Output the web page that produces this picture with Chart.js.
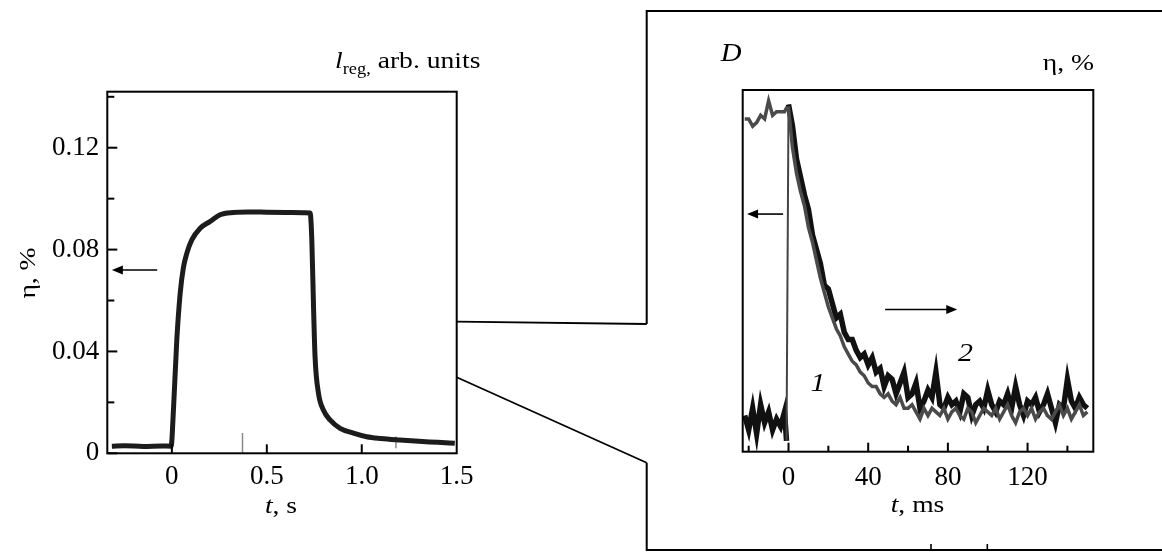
<!DOCTYPE html>
<html>
<head>
<meta charset="utf-8">
<script src="https://cdn.jsdelivr.net/npm/chart.js@4.4.1/dist/chart.umd.min.js"></script>
<style>
    html, body { margin: 0; padding: 0; background: #fff; }
    #wrap { position: relative; width: 1162px; height: 552px; overflow: hidden; }
    #slowChart { position: absolute; left: 0; top: 0; }
    #fastChart { position: absolute; left: 640px; top: 0; }
</style>
</head>
<body>
<div id="wrap">
    <canvas id="slowChart" width="650" height="552"></canvas>
    <canvas id="fastChart" width="522" height="552"></canvas>
</div>
<script>
// left panel: eta (%) vs t (s)
const slowT = [-0.316, -0.25, -0.15, -0.05, -0.004, 0.009, 0.026, 0.044, 0.061, 0.079, 0.105, 0.149, 0.2, 0.254, 0.325,
    0.4, 0.5, 0.6, 0.7, 0.728, 0.737, 0.746, 0.754, 0.772, 0.798, 0.833, 0.886, 0.956, 1.026, 1.1, 1.2, 1.3, 1.4, 1.49];
const slowEta = [0.0028, 0.0030, 0.0027, 0.0029, 0.0028, 0.018, 0.0445, 0.063, 0.073, 0.0786, 0.0838, 0.0884, 0.091, 0.0937, 0.0946,
    0.0948, 0.0947, 0.0946, 0.0945, 0.0944, 0.0838, 0.0576, 0.038, 0.0236, 0.017, 0.0131, 0.0098, 0.0079, 0.0065, 0.0058, 0.0052, 0.0047, 0.0043, 0.0039];
const spikeT = [0.372, 1.18];
const spikeLow = [0, 0.002];
const spikeTop = [0.008, 0.0066];
const slowXTicks = [0, 0.5, 1.0, 1.5];
const slowYTicks = [0, 0.04, 0.08, 0.12];
const slowYMinor = [0.02, 0.06, 0.10, 0.14];

// right panel (inset D): t (ms), relative units
const fastT = [-22, -20, -18, -16, -14, -12, -10, -8, -6, -4, -2, -1, 0,
    2, 4, 6, 8, 10, 12, 14, 16, 18, 20, 22, 24, 26, 28, 30, 32, 34, 36, 38,
    40, 42, 44, 46, 48, 50, 52, 54, 56, 58, 60, 62, 64, 66, 68, 70, 72, 74, 76, 78,
    80, 82, 84, 86, 88, 90, 92, 94, 96, 98, 100, 102, 104, 106, 108, 110, 112, 114, 116, 118,
    120, 122, 124, 126, 128, 130, 132, 134, 136, 138, 140, 142, 144, 146, 148, 150];
const curve1 = [0.92, 0.92, 0.90, 0.91, 0.93, 0.92, 0.97, 0.93, 0.94, 0.94, 0.94, 0.95, 0.95,
    0.84, 0.77, 0.72, 0.68, 0.62, 0.58, 0.53, 0.48, 0.44, 0.40, 0.37, 0.34, 0.32, 0.29, 0.27, 0.25, 0.24, 0.22, 0.21,
    0.19, 0.18, 0.18, 0.16, 0.15, 0.16, 0.14, 0.13, 0.15, 0.12, 0.12, 0.13, 0.11, 0.09, 0.12, 0.10, 0.12, 0.11, 0.10, 0.12,
    0.09, 0.11, 0.12, 0.10, 0.09, 0.12, 0.11, 0.08, 0.10, 0.12, 0.11, 0.10, 0.12, 0.09, 0.11, 0.13, 0.10, 0.08, 0.11, 0.12,
    0.10, 0.12, 0.09, 0.11, 0.12, 0.10, 0.09, 0.11, 0.13, 0.10, 0.12, 0.09, 0.11, 0.13, 0.10, 0.11];
const curve2 = [0.10, 0.06, 0.12, 0.05, 0.13, 0.08, 0.11, 0.06, 0.09, 0.07, 0.11, 0.03, 0.96,
    0.90, 0.81, 0.76, 0.71, 0.67, 0.60, 0.56, 0.52, 0.46, 0.45, 0.41, 0.37, 0.38, 0.33, 0.31, 0.31, 0.28, 0.26, 0.27,
    0.24, 0.26, 0.22, 0.23, 0.18, 0.21, 0.20, 0.16, 0.19, 0.22, 0.15, 0.16, 0.19, 0.12, 0.14, 0.17, 0.15, 0.22, 0.13, 0.12,
    0.15, 0.13, 0.14, 0.11, 0.16, 0.15, 0.10, 0.13, 0.14, 0.12, 0.17, 0.13, 0.11, 0.14, 0.13, 0.16, 0.12, 0.18, 0.13, 0.10,
    0.14, 0.13, 0.15, 0.11, 0.13, 0.16, 0.12, 0.08, 0.13, 0.12, 0.20, 0.14, 0.12, 0.15, 0.13, 0.12];
const fastXTicks = [0, 40, 80, 120];
const fastXMinor = [-20, 20, 60, 100, 140];

const SERIF = '"Liberation Serif", "Times New Roman", serif';
const STRETCH = 1.15;

function textRun(ctx, parts, x, y, align) {
    ctx.save();
    ctx.translate(x, y);
    ctx.scale(STRETCH, 1);
    let total = 0;
    parts.forEach(p => { ctx.font = p.font; total += ctx.measureText(p.text).width; });
    let cx = align === 'center' ? -total / 2 : align === 'right' ? -total : 0;
    ctx.textAlign = 'left';
    ctx.textBaseline = 'alphabetic';
    ctx.fillStyle = '#000';
    parts.forEach(p => {
        ctx.font = p.font;
        ctx.fillText(p.text, cx, p.dy || 0);
        cx += ctx.measureText(p.text).width;
    });
    ctx.restore();
}

function arrow(ctx, x1, y, x2) {
    const dir = x2 > x1 ? 1 : -1;
    ctx.save();
    ctx.strokeStyle = '#000';
    ctx.fillStyle = '#000';
    ctx.lineWidth = 1.6;
    ctx.beginPath();
    ctx.moveTo(x1, y);
    ctx.lineTo(x2 - dir * 8, y);
    ctx.stroke();
    ctx.beginPath();
    ctx.moveTo(x2, y);
    ctx.lineTo(x2 - dir * 11, y - 4.5);
    ctx.lineTo(x2 - dir * 11, y + 4.5);
    ctx.closePath();
    ctx.fill();
    ctx.restore();
}

function frame(ctx, a) {
    ctx.save();
    ctx.strokeStyle = '#000';
    ctx.lineWidth = 2;
    ctx.strokeRect(a.left, a.top, a.right - a.left, a.bottom - a.top);
    ctx.restore();
}

function line(ctx, pts, w) {
    ctx.save();
    ctx.strokeStyle = '#000';
    ctx.lineWidth = w;
    ctx.beginPath();
    ctx.moveTo(pts[0][0], pts[0][1]);
    for (let i = 1; i < pts.length; i++) ctx.lineTo(pts[i][0], pts[i][1]);
    ctx.stroke();
    ctx.restore();
}

const slowDeco = {
    id: 'slowDeco',
    afterDraw(chart) {
        const { ctx, chartArea: a, scales: { x, y } } = chart;
        frame(ctx, a);
        slowYTicks.forEach(v => { const p = y.getPixelForValue(v); line(ctx, [[a.left, p], [a.left + 10, p]], 2); });
        slowYMinor.forEach(v => { const p = y.getPixelForValue(v); line(ctx, [[a.left, p], [a.left + 7, p]], 2); });
        slowXTicks.forEach(v => { const p = x.getPixelForValue(v); if (v < 1.5) line(ctx, [[p, a.bottom], [p, a.bottom - 9]], 2); });

        arrow(ctx, x.getPixelForValue(-0.077), y.getPixelForValue(0.072), x.getPixelForValue(-0.316));

        ctx.save();
        ctx.translate(28, 273);
        ctx.rotate(-Math.PI / 2);
        textRun(ctx, [{ text: 'η, %', font: `24px ${SERIF}` }], 0, 7, 'center');
        ctx.restore();

        textRun(ctx, [
            { text: 'l', font: `italic 24px ${SERIF}` },
            { text: 'reg,', font: `16px ${SERIF}`, dy: 6 },
            { text: ' arb. units', font: `24px ${SERIF}` }
        ], 335, 68, 'left');
        textRun(ctx, [
            { text: 't', font: `italic 24px ${SERIF}` },
            { text: ', s', font: `24px ${SERIF}` }
        ], 281, 513, 'center');

        // connectors to the inset
        line(ctx, [[a.right, 321.7], [646.7, 324]], 1.8);
        line(ctx, [[a.right, 377.3], [646.7, 462.7]], 1.8);
    }
};

const fastDeco = {
    id: 'fastDeco',
    afterDraw(chart) {
        const { ctx, chartArea: a, scales: { x, y } } = chart;
        frame(ctx, a);
        fastXTicks.forEach(v => { const p = x.getPixelForValue(v); line(ctx, [[p, a.bottom], [p, a.bottom - 9]], 2); });
        fastXMinor.forEach(v => { const p = x.getPixelForValue(v); line(ctx, [[p, a.bottom], [p, a.bottom - 6]], 2); });

        arrow(ctx, x.getPixelForValue(-2.7), y.getPixelForValue(0.657), x.getPixelForValue(-20.8));
        arrow(ctx, x.getPixelForValue(48.5), y.getPixelForValue(0.393), x.getPixelForValue(84.7));

        textRun(ctx, [{ text: '1', font: `italic 26px ${SERIF}` }], x.getPixelForValue(14.8), y.getPixelForValue(0.193) + 9, 'center');
        textRun(ctx, [{ text: '2', font: `italic 26px ${SERIF}` }], x.getPixelForValue(88.8), y.getPixelForValue(0.276) + 9, 'center');

        textRun(ctx, [{ text: 'D', font: `italic 25px ${SERIF}` }], 80.7, 61, 'left');
        textRun(ctx, [{ text: 'η, %', font: `24px ${SERIF}` }], 454, 70, 'right');
        textRun(ctx, [
            { text: 't', font: `italic 24px ${SERIF}` },
            { text: ', ms', font: `24px ${SERIF}` }
        ], 277.5, 512, 'center');

        // outer box of the inset
        line(ctx, [[6.7, 324], [6.7, 11], [530, 11]], 2);
        line(ctx, [[6.7, 462.7], [6.7, 550], [530, 550]], 2);
        line(ctx, [[291, 544], [291, 550]], 1.6);
        line(ctx, [[347.3, 544], [347.3, 550]], 1.6);
    }
};

const tickFont = { family: SERIF, size: 27 };

new Chart(document.getElementById('slowChart'), {
    type: 'line',
    data: {
        datasets: [
            {
                data: slowT.map((t, i) => ({ x: t, y: slowEta[i] })),
                borderColor: '#1c1c1c',
                borderWidth: 5,
                pointRadius: 0,
                cubicInterpolationMode: 'monotone',
            },
            {
                data: spikeT.flatMap((t, i) => [{ x: t, y: spikeLow[i] }, { x: t, y: spikeTop[i] }, { x: t, y: null }]),
                borderColor: '#8a8a8a',
                borderWidth: 1.5,
                pointRadius: 0,
                spanGaps: false,
            },
        ],
    },
    options: {
        responsive: false,
        animation: false,
        events: [],
        layout: { padding: { left: 0, top: 91.7, right: 193.3, bottom: 0 } },
        plugins: { legend: { display: false }, tooltip: { enabled: false } },
        scales: {
            x: {
                type: 'linear',
                min: -0.34,
                max: 1.5,
                grid: { display: false, drawTicks: false },
                border: { display: false },
                afterBuildTicks: s => { s.ticks = slowXTicks.map(v => ({ value: v })); },
                afterFit: s => { s.height = 98.7; },
                ticks: {
                    padding: 7, color: '#000', font: tickFont, maxRotation: 0, autoSkip: false,
                    callback: v => (v === 0 ? '0' : v.toFixed(1)),
                },
            },
            y: {
                type: 'linear',
                min: 0,
                max: 0.142,
                grid: { display: false, drawTicks: false },
                border: { display: false },
                afterBuildTicks: s => { s.ticks = slowYTicks.map(v => ({ value: v })); },
                afterFit: s => { s.width = 107.3; },
                ticks: {
                    padding: 8, color: '#000', font: tickFont, autoSkip: false,
                    callback: v => (v === 0 ? '0' : v.toFixed(2)),
                },
            },
        },
    },
    plugins: [slowDeco],
});

new Chart(document.getElementById('fastChart'), {
    type: 'line',
    data: {
        datasets: [
            {
                label: '1',
                data: fastT.map((t, i) => ({ x: t, y: curve1[i] })),
                borderColor: '#4a4a4a',
                borderWidth: 3.5,
                pointRadius: 0,
            },
            {
                label: '2',
                data: fastT.map((t, i) => ({ x: t, y: curve2[i] })),
                borderColor: '#111',
                borderWidth: 5.5,
                pointRadius: 0,
                segment: {
                    borderWidth: c => (c.p0.parsed.x === -1 ? 2 : undefined),
                    borderColor: c => (c.p0.parsed.x === -1 ? '#444' : undefined),
                },
            },
        ],
    },
    options: {
        responsive: false,
        animation: false,
        events: [],
        layout: { padding: { left: 102.7, top: 90, right: 68.7, bottom: 0 } },
        plugins: { legend: { display: false }, tooltip: { enabled: false } },
        scales: {
            x: {
                type: 'linear',
                min: -23,
                max: 153,
                grid: { display: false, drawTicks: false },
                border: { display: false },
                afterBuildTicks: s => { s.ticks = fastXTicks.map(v => ({ value: v })); },
                afterFit: s => { s.height = 100.3; },
                ticks: { padding: 10, color: '#000', font: tickFont, maxRotation: 0, autoSkip: false },
            },
            y: {
                type: 'linear',
                display: false,
                min: 0,
                max: 1,
            },
        },
    },
    plugins: [fastDeco],
});
</script>
</body>
</html>
